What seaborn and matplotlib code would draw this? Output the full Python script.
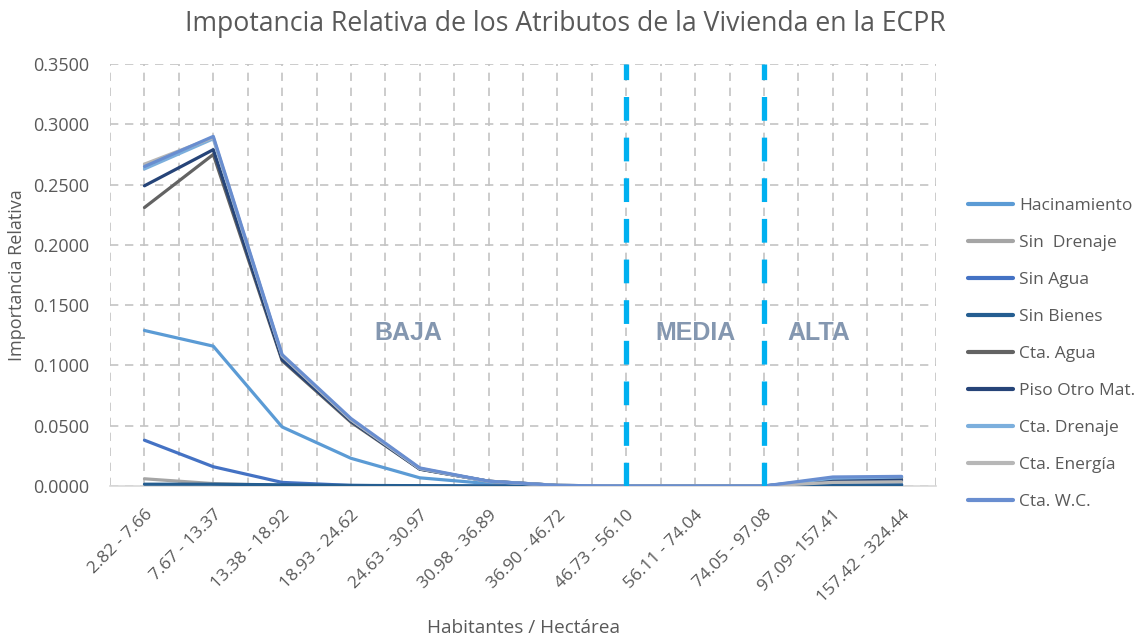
import matplotlib
matplotlib.use("Agg")
import matplotlib.pyplot as plt
import numpy as np
import pandas as pd
import seaborn as sns

# categories (habitantes / hectárea)
categories = ["2.82 - 7.66", "7.67 - 13.37", "13.38 - 18.92", "18.93 - 24.62",
              "24.63 - 30.97", "30.98 - 36.89", "36.90 - 46.72", "46.73 - 56.10",
              "56.11 - 74.04", "74.05 - 97.08", "97.09- 157.41", "157.42 - 324.44"]

hacinamiento = [0.129, 0.116, 0.049, 0.023, 0.0068, 0.002, 0.0, 0.0, 0.0, 0.0, 0.001, 0.001]
sin_drenaje = [0.006, 0.002, 0.0005, 0.0, 0.0, 0.0, 0.0, 0.0, 0.0, 0.0, 0.0005, 0.0005]
sin_agua = [0.038, 0.016, 0.003, 0.0005, 0.0, 0.0, 0.0, 0.0, 0.0, 0.0, 0.0005, 0.001]
sin_bienes = [0.0015, 0.0015, 0.001, 0.0005, 0.0003, 0.0, 0.0, 0.0, 0.0, 0.0, 0.0005, 0.001]
cta_agua = [0.231, 0.275, 0.104, 0.053, 0.014, 0.004, 0.0005, 0.0, 0.0, 0.0, 0.006, 0.007]
piso_otro = [0.249, 0.279, 0.105, 0.054, 0.014, 0.004, 0.0005, 0.0, 0.0, 0.0, 0.005, 0.005]
cta_drenaje = [0.263, 0.288, 0.108, 0.055, 0.0145, 0.0038, 0.0005, 0.0, 0.0, 0.0, 0.0065, 0.0075]
cta_energia = [0.267, 0.289, 0.108, 0.055, 0.0145, 0.0038, 0.0005, 0.0, 0.0, 0.0, 0.003, 0.0035]
cta_wc = [0.265, 0.290, 0.109, 0.056, 0.015, 0.004, 0.0005, 0.0, 0.0, 0.0, 0.0075, 0.008]

series_names = ["Hacinamiento", "Sin  Drenaje", "Sin Agua", "Sin Bienes", "Cta. Agua",
                "Piso Otro Mat.", "Cta. Drenaje", "Cta. Energía", "Cta. W.C."]
series_values = [hacinamiento, sin_drenaje, sin_agua, sin_bienes, cta_agua,
                 piso_otro, cta_drenaje, cta_energia, cta_wc]
series_colors = ["#5B9BD5", "#A5A5A5", "#4472C4", "#255E91", "#636363",
                 "#264478", "#7CAFDD", "#B7B7B7", "#698ED0"]

# zone labels and the category where each divider sits
zone_labels = ["BAJA", "MEDIA", "ALTA"]
zone_x = [3.84, 8.0, 9.8]
divider_cats = ["46.73 - 56.10", "74.05 - 97.08"]

sns.set_style("white")
plt.rcParams["font.family"] = ["Open Sans", "DejaVu Sans"]

rows = []
for name, vals in zip(series_names, series_values):
    for i, v in enumerate(vals):
        rows.append({"pos": i, "serie": name, "valor": v})
df = pd.DataFrame(rows)

fig = plt.figure(figsize=(11.38, 6.39), dpi=100)
ax = fig.add_axes([0.0967, 0.2394, 0.7258, 0.6604])

sns.lineplot(data=df, x="pos", y="valor", hue="serie", hue_order=series_names,
             palette=dict(zip(series_names, series_colors)), linewidth=2.3,
             sort=False, ax=ax, zorder=3)

ax.set_xlim(-0.5, 11.5)
ax.set_ylim(0, 0.35)
ax.set_yticks(np.arange(0, 0.351, 0.05))
ax.yaxis.set_major_formatter(matplotlib.ticker.StrMethodFormatter("{x:.4f}"))
ax.set_xticks(range(len(categories)))
ax.set_xticks(np.arange(-0.5, len(categories), 1), minor=True)
ax.set_xticklabels(categories, rotation=45, ha="right", rotation_mode="anchor")

grid_kw = dict(color="#C4C4C4", linestyle=(0, (5, 4)), linewidth=1.2)
ax.grid(axis="x", which="both", **grid_kw)
ax.grid(axis="y", which="major", **grid_kw)
ax.set_axisbelow(True)

ax.tick_params(axis="x", which="both", length=0, labelsize=12.5,
               labelcolor="#595959", pad=15)
ax.tick_params(axis="y", which="both", length=0, labelsize=13,
               labelcolor="#595959", pad=15)

for s in ["top", "right", "left"]:
    ax.spines[s].set_visible(False)
ax.spines["bottom"].set_color("#D9D9D9")
ax.spines["bottom"].set_linewidth(1.2)

# zone dividers
for cat in divider_cats:
    ax.axvline(categories.index(cat), color="#00B0F0", linewidth=3.8,
               linestyle=(0, (4.5, 3.2)), zorder=4)

for lbl, xx in zip(zone_labels, zone_x):
    ax.text(xx, 0.127, lbl, ha="center", va="center", fontsize=18,
            fontweight="bold", color="#8497B0", family="Liberation Sans", zorder=5)

ax.set_xlabel("Habitantes / Hectárea", fontsize=13.7, color="#595959", labelpad=10)
ax.set_ylabel("Importancia Relativa", fontsize=13, color="#595959", labelpad=5)
fig.suptitle("Impotancia Relativa de los Atributos de la Vivienda en la ECPR",
             x=0.497, y=0.985, fontsize=19.2, color="#595959")

leg = ax.legend(loc="upper left", bbox_to_anchor=(1.03, 0.70), frameon=False,
                fontsize=12.5, labelspacing=1.2, handlelength=2.6, handletextpad=0.35,
                labelcolor="#595959", borderaxespad=0)
for line in leg.get_lines():
    line.set_linewidth(3)

fig.savefig("out.png", dpi=100)
